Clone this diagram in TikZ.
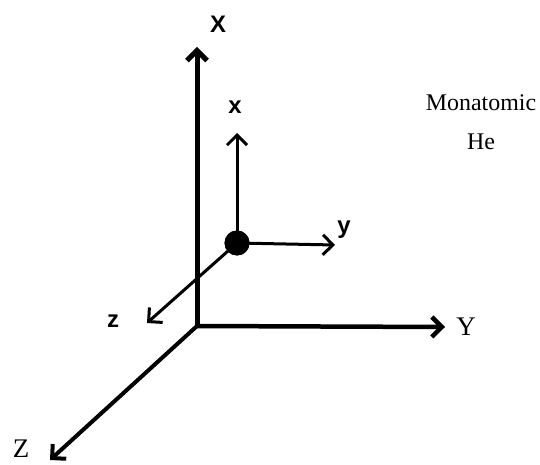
\documentclass[tikz,border=0pt]{standalone}
\usepackage{fontspec}
\setmainfont{Liberation Serif}
\newfontfamily\labelsans{Liberation Sans}
\usetikzlibrary{arrows.meta}
\begin{document}
\begin{tikzpicture}[x=1bp,y=-1bp,
  bigaxis/.style={line width=4.5bp, -{Straight Barb[length=10bp,width=20bp]}},
  smallaxis/.style={line width=3bp, -{Straight Barb[length=10bp,width=20bp]}},
  sanslab/.style={inner sep=0pt, font=\labelsans\bfseries\fontsize{24}{24}\selectfont},
  seriflab/.style={inner sep=0pt, font=\fontsize{27}{27}\selectfont},
  textlab/.style={inner sep=0pt, align=center, font=\fontsize{24}{39}\selectfont}]
\useasboundingbox (0,0) rectangle (540,465);
% big frame
\coordinate (O) at (197,326);
\coordinate (Xt) at (197,47);
\coordinate (Yt) at (445,327);
\coordinate (Zt) at (50,460);
% atom frame
\node[circle, fill=black, minimum size=25bp, inner sep=0pt] (atom) at (237,243) {};
\coordinate (xt) at (237,133);
\coordinate (yt) at (335,245);
\coordinate (zt) at (147,323);
% axes
\draw[bigaxis, line width=5bp] (O) -- (Xt);
\draw[bigaxis] (O) -- (Yt);
\draw[bigaxis, line width=4bp] (O) -- (Zt);
\draw[smallaxis] (atom.center) -- (xt);
\draw[smallaxis] (atom.center) -- (yt);
\draw[smallaxis] (atom.center) -- (zt);
\node[circle, fill=black, minimum size=25bp, inner sep=0pt] at (atom) {};
% labels
\node[sanslab] (lX) at (218,24) {X};
\node[sanslab] (lx) at (235,107) {x};
\node[sanslab] (ly) at (344,230) {y};
\node[sanslab] (lz) at (113,321) {z};
\node[seriflab] (lY) at (466,327) {Y};
\node[seriflab] (lZ) at (21,449) {Z};
\node[textlab] (mono) at (481,122) {Monatomic\\He};
\end{tikzpicture}
\end{document}
